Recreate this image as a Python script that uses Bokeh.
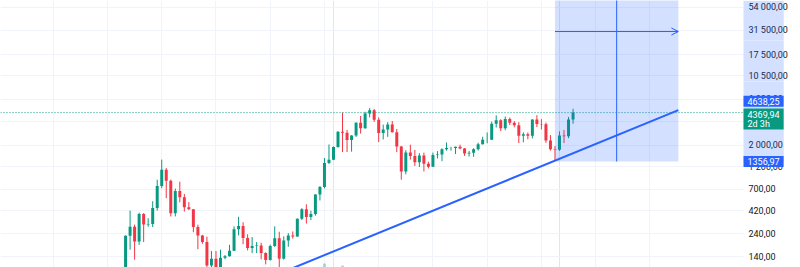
import math
from bokeh.plotting import figure
from bokeh.models import (Range1d, FixedTicker, Label, Arrow, OpenHead,
                          Grid, CustomJSTickFormatter, LinearScale)
from bokeh.embed import file_html
from bokeh.resources import INLINE

# ---- ETH monthly candles ----
months = ["2017-05", "2017-06", "2017-07", "2017-08", "2017-09", "2017-10", "2017-11", "2017-12",
          "2018-01", "2018-02", "2018-03", "2018-04", "2018-05", "2018-06", "2018-07", "2018-08",
          "2018-09", "2018-10", "2018-11", "2018-12",
          "2019-01", "2019-02", "2019-03", "2019-04", "2019-05", "2019-06", "2019-07", "2019-08",
          "2019-09", "2019-10", "2019-11", "2019-12",
          "2020-01", "2020-02", "2020-03", "2020-04", "2020-05", "2020-06", "2020-07", "2020-08",
          "2020-09", "2020-10", "2020-11", "2020-12",
          "2021-01", "2021-02", "2021-03", "2021-04", "2021-05", "2021-06", "2021-07", "2021-08",
          "2021-09", "2021-10", "2021-11", "2021-12",
          "2022-01", "2022-02", "2022-03", "2022-04", "2022-05", "2022-06", "2022-07", "2022-08",
          "2022-09", "2022-10", "2022-11", "2022-12",
          "2023-01", "2023-02", "2023-03", "2023-04", "2023-05", "2023-06", "2023-07", "2023-08",
          "2023-09", "2023-10", "2023-11", "2023-12",
          "2024-01", "2024-02", "2024-03", "2024-04", "2024-05", "2024-06", "2024-07", "2024-08",
          "2024-09", "2024-10", "2024-11", "2024-12",
          "2025-01", "2025-02", "2025-03", "2025-04", "2025-05", "2025-06", "2025-07", "2025-08"]

opens = [80, 230, 285, 201, 388, 302, 305, 446,
         756, 1118, 855, 395, 670, 577, 455, 433, 283, 232, 198, 113,
         133, 106, 136, 141, 161, 268, 291, 218, 172, 180, 182, 152,
         129, 180, 217, 133, 206, 231, 226, 346, 434, 360, 386, 616,
         737, 1314, 1416, 1918, 2773, 2707, 2275, 2536, 3433, 3000, 4290, 4630,
         3680, 2690, 2920, 3280, 2730, 1940, 1070, 1680, 1550, 1330, 1570, 1290,
         1200, 1585, 1605, 1820, 1870, 1875, 1935, 1855, 1645, 1670, 1815, 2050,
         2281, 2283, 3340, 3640, 3010, 3760, 3430, 3230, 2510, 2600, 2510, 3700,
         3330, 3300, 2240, 1820, 1795, 2530, 2485, 3700]
highs = [232, 420, 300, 400, 395, 350, 525, 880,
         1420, 1160, 880, 710, 838, 625, 515, 435, 300, 235, 225, 160,
         160, 165, 145, 185, 288, 362, 318, 238, 223, 198, 195, 155,
         186, 288, 253, 227, 245, 255, 348, 445, 488, 418, 622, 755,
         1475, 2040, 1945, 2800, 4380, 2890, 2550, 3470, 4030, 4460, 4870, 4780,
         3900, 3280, 3480, 3580, 2950, 1970, 1780, 2030, 1790, 1660, 1680, 1350,
         1680, 1740, 1860, 2140, 1930, 1940, 2030, 1875, 1750, 1865, 2130, 2450,
         2720, 3520, 4090, 3730, 3980, 3890, 3560, 3480, 2730, 2720, 3720, 4110,
         3740, 3450, 2550, 1960, 2790, 2880, 3940, 4790]
lows = [76, 165, 130, 185, 198, 285, 283, 420,
        716, 565, 365, 365, 512, 410, 427, 250, 167, 190, 100, 82,
        100, 102, 131, 140, 160, 232, 188, 162, 152, 152, 131, 116,
        127, 176, 90, 130, 177, 215, 224, 335, 308, 335, 372, 535,
        714, 1280, 1410, 1890, 1700, 1700, 1720, 2450, 2650, 2970, 3900, 3500,
        2160, 2300, 2450, 2720, 1700, 880, 1000, 1420, 1220, 1190, 1070, 1150,
        1190, 1460, 1370, 1760, 1760, 1625, 1820, 1550, 1530, 1520, 1770, 2040,
        2100, 2270, 3060, 2810, 2870, 3250, 3080, 2110, 2150, 2310, 2360, 3100,
        2920, 2120, 1760, 1385, 1750, 2110, 2370, 3350]
closes = [230, 285, 201, 388, 302, 305, 446, 756,
          1118, 855, 395, 670, 577, 455, 433, 283, 232, 198, 113, 133,
          106, 136, 141, 161, 268, 291, 218, 172, 180, 182, 152, 129,
          180, 217, 133, 206, 231, 226, 346, 434, 360, 386, 616, 737,
          1314, 1416, 1918, 2773, 2707, 2275, 2536, 3433, 3000, 4290, 4630, 3680,
          2690, 2920, 3280, 2730, 1940, 1070, 1680, 1550, 1330, 1570, 1290, 1200,
          1585, 1605, 1820, 1870, 1875, 1935, 1855, 1645, 1670, 1815, 2050, 2280,
          2283, 3340, 3640, 3010, 3760, 3430, 3230, 2510, 2600, 2510, 3700, 3330,
          3300, 2240, 1820, 1795, 2530, 2485, 3700, 4369.94]

# volume tops that peek in at the bottom edge
vol_months = ["2021-01", "2021-05"]
vol_values = [34, 32]
vol_up = [True, False]

# price-axis ticks
y_ticks = [140, 240, 420, 700, 1200, 2000, 3500, 6000, 10500, 17500, 31500, 54000]

# drawings
trend_idx = [38, 126.3]
trend_price = [93.0, 4638.25]
range_idx = [99, 126.3]
range_price = [1356.97, 680000.0]
last_price = 4369.94
countdown = "2d 3h"

UP = "#089981"
DOWN = "#f23645"
BLUE = "#2962ff"
GRID = "#f0f3fa"
FONT = "Roboto"
FS = "9px"


def midx(m):
    yy, mm = m.split("-")
    return (int(yy) - 2017) * 12 + int(mm) - 1


x = [midx(m) for m in months]
cols = [UP if c >= o else DOWN for o, c in zip(opens, closes)]
tops = [max(o, c) for o, c in zip(opens, closes)]
bots = [min(o, c) for o, c in zip(opens, closes)]

X0, XB, X1 = -23.67, 140.71, 153.32   # left edge, pane|scale border, right edge
Y0, Y1 = 107.7, 63780

p = figure(width=800, height=267, frame_width=800, frame_height=267,
           x_range=Range1d(X0, X1), y_range=Range1d(Y0, Y1),
           y_axis_type="log", x_axis_location=None, y_axis_location="right",
           output_backend="svg", toolbar_location=None, min_border=0)
p.outline_line_color = None
p.background_fill_color = "white"
p.border_fill_color = "white"

# grids
p.ygrid.ticker = FixedTicker(ticks=y_ticks)
p.ygrid.grid_line_color = GRID
p.add_layout(Grid(dimension=0, ticker=FixedTicker(ticks=[-12 + 12 * k for k in range(12)]),
                  grid_line_color=GRID))

# price scale drawn at the pane border (inside the canvas)
ax = p.yaxis[0]
ax.fixed_location = XB
ax.ticker = FixedTicker(ticks=y_ticks)
ax.formatter = CustomJSTickFormatter(code="""
const s = tick.toFixed(2);
const parts = s.split('.');
return parts[0].replace(/\\B(?=(\\d{3})+(?!\\d))/g, ' ') + ',' + parts[1];
""")
ax.axis_line_color = None
ax.major_tick_line_color = None
ax.minor_tick_line_color = None
ax.major_tick_out = 0
ax.major_tick_in = 0
ax.major_label_standoff = 5
ax.major_label_text_font = FONT
ax.major_label_text_font_size = FS
ax.major_label_text_color = "#131722"

# white price-scale background
p.quad(left=[XB], right=[X1], bottom=[Y0], top=[Y1], fill_color="white", line_color=None)

# volume peeks
p.extra_y_ranges = {"vol": Range1d(30, 300)}
p.extra_y_scales = {"vol": LinearScale()}
p.vbar(x=[midx(m) for m in vol_months], width=0.66, top=vol_values, bottom=0,
       fill_color=[UP if u else DOWN for u in vol_up], fill_alpha=0.35, line_color=None,
       y_range_name="vol")

# candles
p.segment(x0=x, y0=lows, x1=x, y1=highs, line_color=cols, line_width=1)
p.vbar(x=x, width=0.66, top=tops, bottom=bots, fill_color=cols, line_color=None)

# last price dotted line
p.segment(x0=[X0], y0=[last_price], x1=[XB], y1=[last_price], line_color=UP,
          line_dash="1 2", line_width=1)

# date & price range drawing
p.quad(left=[range_idx[0]], right=[range_idx[1]], bottom=[range_price[0]], top=[range_price[1]],
       fill_color=BLUE, fill_alpha=0.2, line_color=None)
xm = (range_idx[0] + range_idx[1]) / 2
ym = (range_price[0] * range_price[1]) ** 0.5
p.segment(x0=[xm], y0=[range_price[0]], x1=[xm], y1=[range_price[1]], line_color=BLUE, line_width=1)
p.add_layout(Arrow(x_start=range_idx[0], y_start=ym, x_end=range_idx[1], y_end=ym,
                   line_color=BLUE, line_width=1,
                   end=OpenHead(size=7, line_color=BLUE, line_width=1)))

# trend line
p.line(trend_idx, trend_price, line_color=BLUE, line_width=2)

# range highlight on the price scale: four stacked tinted boxes from range bottom to view top
lo, hi = math.log10(range_price[0]), math.log10(Y1)
for k in range(4):
    yc = 10 ** (lo + (k + 0.5) / 4 * (hi - lo))
    p.add_layout(Label(x=XB, y=yc, text=" ",
                       text_font=FONT, text_font_size=FS,
                       text_align="left", text_baseline="middle",
                       background_fill_color=BLUE, background_fill_alpha=0.2,
                       padding=(19, 15)))


def fmt(v):
    return f"{v:.2f}".replace(".", ",")


# price tags on the scale
p.add_layout(Label(x=XB, y=trend_price[1], y_offset=9, text=fmt(trend_price[1]),
                   text_font=FONT, text_font_size=FS, text_color="white",
                   text_align="left", text_baseline="middle",
                   background_fill_color=BLUE, padding=(4, 2)))
p.add_layout(Label(x=XB, y=last_price, y_offset=4, text=fmt(last_price) + "\n" + countdown,
                   text_font=FONT, text_font_size=FS, text_color="white",
                   text_align="left", text_baseline="top", text_line_height=0.9,
                   background_fill_color=UP, padding=(4, 1)))
p.add_layout(Label(x=XB, y=range_price[0], text=fmt(range_price[0]),
                   text_font=FONT, text_font_size=FS, text_color="white",
                   text_align="left", text_baseline="middle",
                   background_fill_color=BLUE, padding=(4, 2)))

open("out.html", "w").write(file_html(p, INLINE))
